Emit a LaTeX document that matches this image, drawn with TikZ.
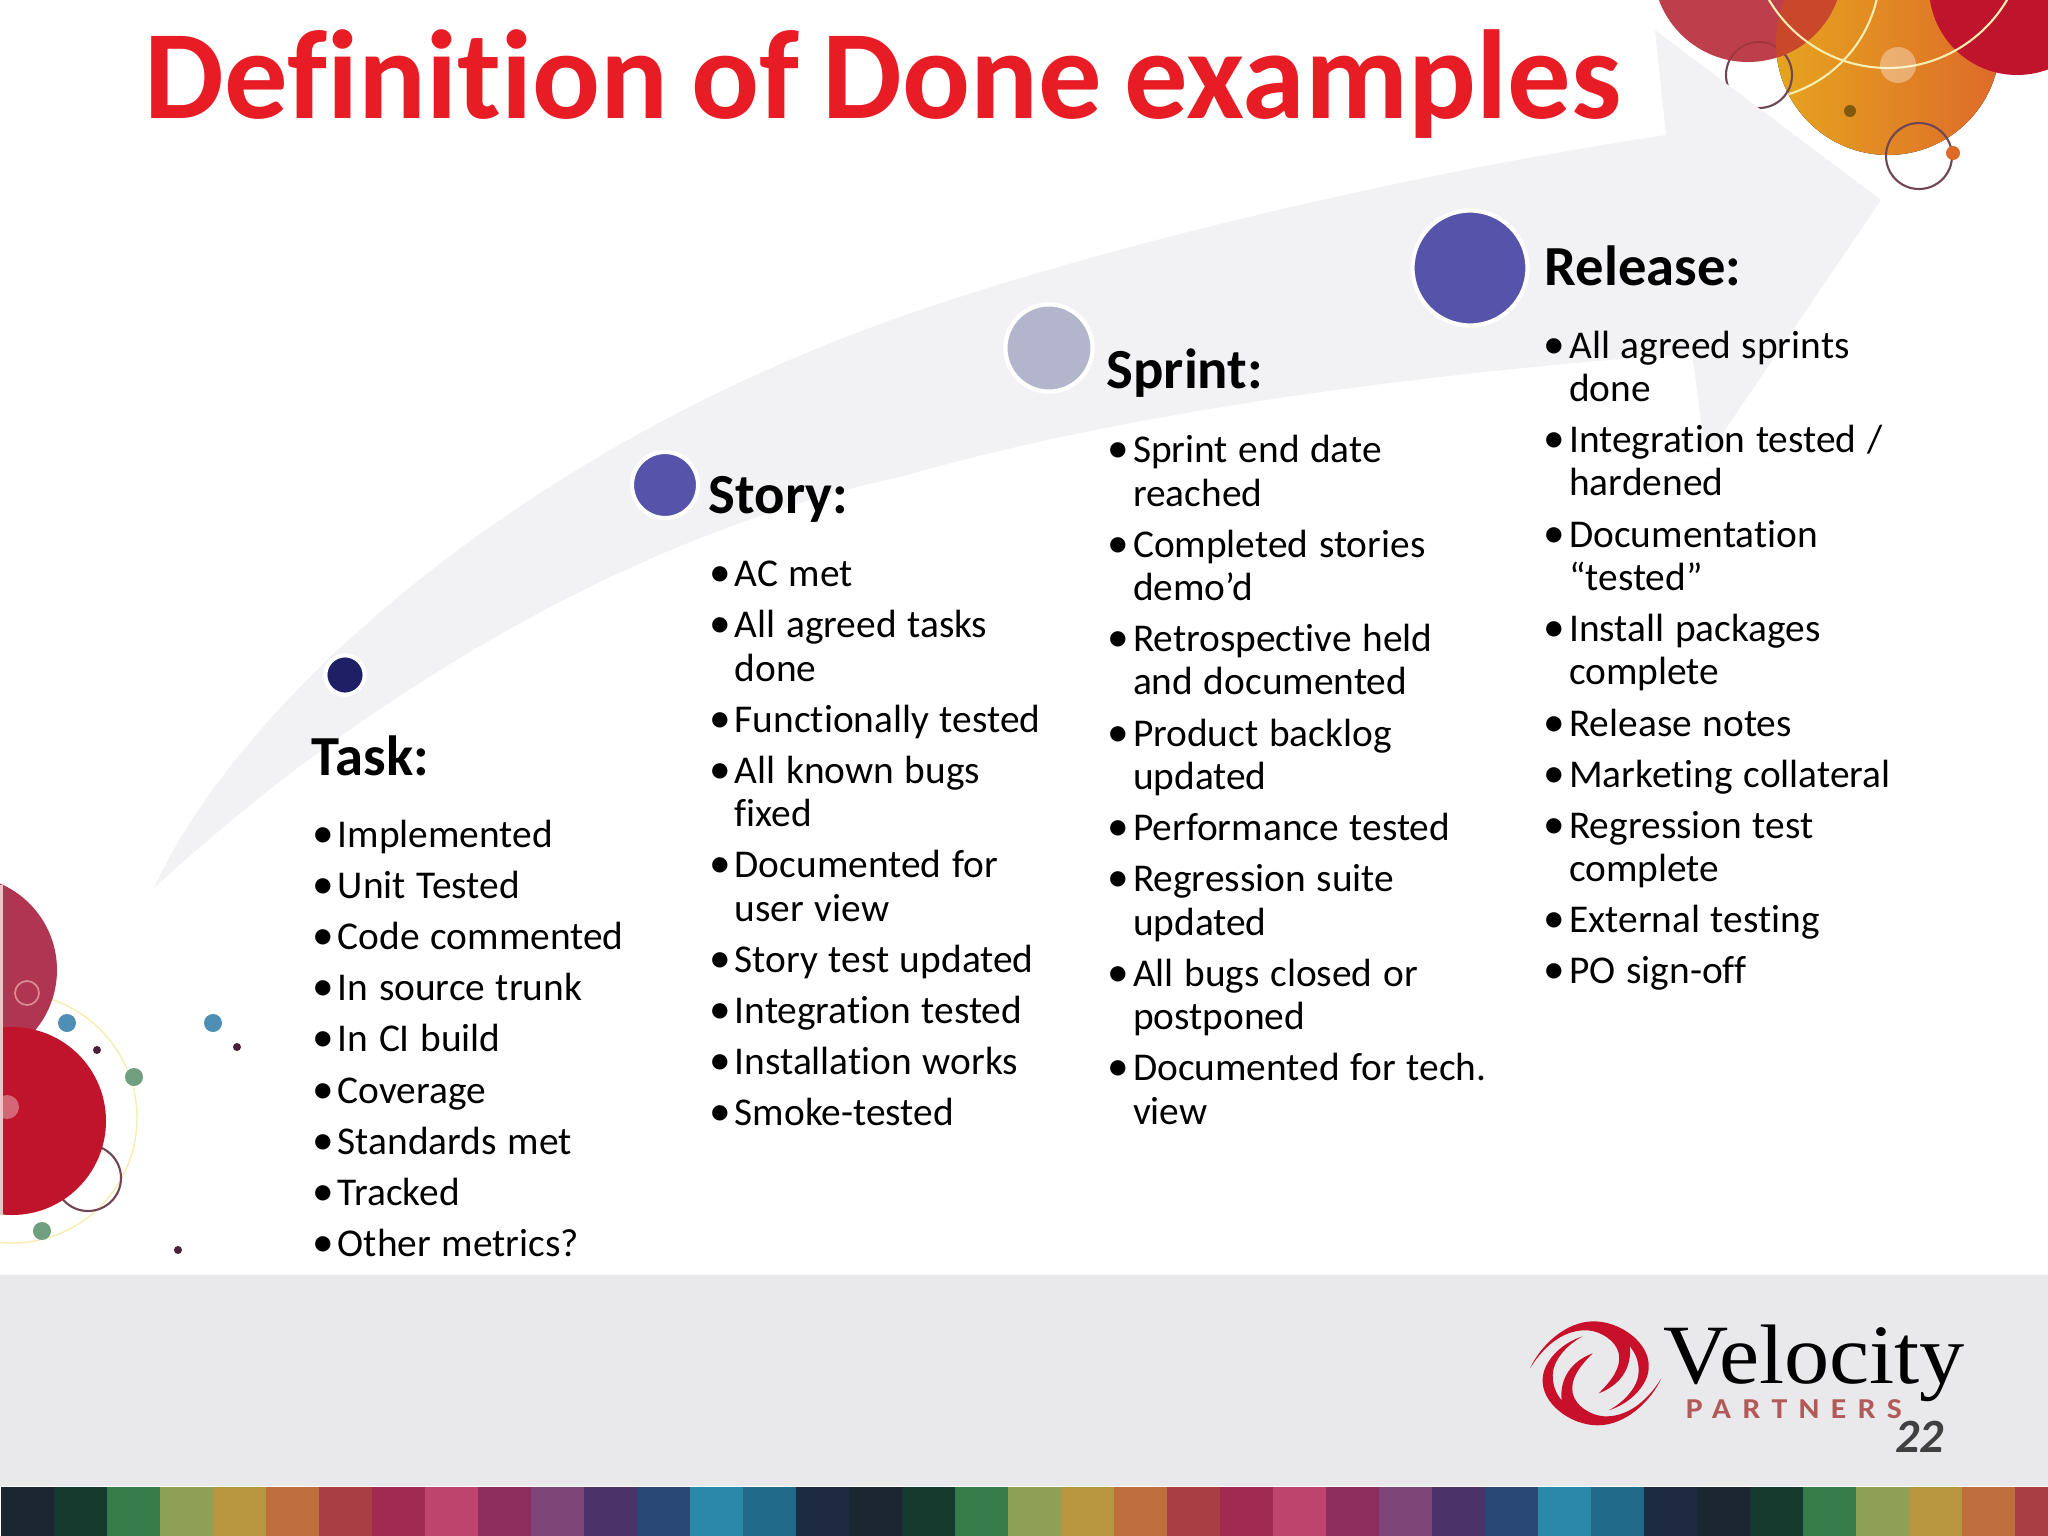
\documentclass[tikz,border=0pt]{standalone}
\usepackage{fontspec}
\setmainfont[Ligatures=NoCommon,WordSpace=0.8]{Carlito}
\newfontfamily\logofont{Liberation Serif}
\newfontfamily\partnersfont[LetterSpace=36]{Carlito}
\definecolor{titlered}{HTML}{E81C25}
\definecolor{bandgray}{HTML}{F2F1F4}
\definecolor{footgray}{HTML}{E9E9EB}
\definecolor{taskblue}{HTML}{1F1F66}
\definecolor{dotblue}{HTML}{5654AA}
\definecolor{sprintgray}{HTML}{B3B5CD}
\definecolor{rosered}{HTML}{BE3F4C}
\definecolor{roseover}{HTML}{C9472A}
\definecolor{deepred}{HTML}{C0142C}
\definecolor{plumred}{HTML}{AF3552}
\definecolor{orangeL}{HTML}{E5A41E}
\definecolor{orangeR}{HTML}{DE6A2A}
\definecolor{paleyellow}{HTML}{F6EDB0}
\definecolor{ringdark}{HTML}{6F4656}
\definecolor{spotblue}{HTML}{4F8FB5}
\definecolor{spotgreen}{HTML}{6F9F7F}
\definecolor{spotdark}{HTML}{4A2038}
\definecolor{swirlred}{HTML}{C8102A}
\definecolor{partnersred}{HTML}{B25A5A}
\definecolor{pagegray}{HTML}{404040}
\definecolor{sa}{HTML}{1C2630}
\definecolor{sb}{HTML}{173A2F}
\definecolor{sc}{HTML}{377D4C}
\definecolor{sd}{HTML}{8EA055}
\definecolor{se}{HTML}{B89640}
\definecolor{sf}{HTML}{BF6F3E}
\definecolor{sg}{HTML}{A93F45}
\definecolor{sh}{HTML}{A02A52}
\definecolor{si}{HTML}{BC446D}
\definecolor{sj}{HTML}{8E2E5C}
\definecolor{sk}{HTML}{7D4578}
\definecolor{sl}{HTML}{4A3369}
\definecolor{sm}{HTML}{2A4874}
\definecolor{sn}{HTML}{2A88A8}
\definecolor{so}{HTML}{226A8A}
\definecolor{sp}{HTML}{1E2A42}
\newenvironment{donelist}{\setlength{\spaceskip}{0.27em}\begin{list}{\hspace*{-0.6pt}\scalebox{1.1}{\textbullet}}{%
  \setlength{\leftmargin}{6.7pt}\setlength{\labelwidth}{6.7pt}\setlength{\labelsep}{0pt}%
  \setlength{\topsep}{0pt}\setlength{\partopsep}{0pt}\setlength{\parsep}{0pt}%
  \setlength{\itemsep}{2.19pt}\renewcommand{\makelabel}[1]{##1\hfil}}}{\end{list}}
\tikzset{
  listhead/.style={anchor=base west,inner sep=0pt,font=\fontsize{16.1pt}{18pt}\selectfont\bfseries},
  listbody/.style={anchor=north west,inner sep=0pt,text width=130pt,align=left,font=\fontsize{11.2pt}{12.34pt}\selectfont},
  ringdot/.style={circle,draw=white,line width=1.2pt,inner sep=0pt},
  thinring/.style={draw=ringdark,line width=0.6pt},
  palering/.style={draw=paleyellow,line width=0.6pt},
}
\begin{document}
\begin{tikzpicture}[x=0.01cm,y=-0.01cm]
    \useasboundingbox (0,0) rectangle (2048,1536);
    \clip (0,0) rectangle (2048,1536);
    \fill[white] (0,0) rectangle (2048,1536);
    \fill[footgray] (0,1275) rectangle (2048,1486);
    \foreach \n in {0,1,2}
      \foreach \c [count=\k from 0] in {sa,sb,sc,sd,se,sf,sg,sh,si,sj,sk,sl,sm,sn,so,sp}
        \fill[\c] ({1+53*(16*\n+\k)},1487) rectangle +(53.5,50);

    \fill[left color=orangeL,right color=orangeR] (1888,43) circle (112);
    \draw[thinring] (1759,75) circle (33);
    \fill[rosered] (1748,-33) circle (95);
    \begin{scope}
      \clip (1748,-33) circle (95);
      \draw[rosered!85!black,line width=0.5pt] (1759,75) circle (33);
    \end{scope}
    \begin{scope}
      \clip (1888,43) circle (112);
      \fill[roseover] (1748,-33) circle (95);
      \draw[palering] (1750,-30) circle (130);
    \end{scope}
    \fill[deepred] (2017,-13) circle (88);
    \draw[palering] (1888,-70) circle (138);
    \draw[thinring] (1919,156) circle (33);
    \fill[orangeR] (1953,153) circle (7);
    \fill[black!45!orangeL] (1850,111) circle (6);
    \fill[white,opacity=0.35] (1898,65) circle (18);

    \draw[palering,line width=0.4pt] (12,1118) circle (125);
    \draw[thinring] (88,1178) circle (33);
    \fill[plumred] (-37,970) circle (94);
    \draw[rosered!60!white,line width=0.5pt] (27,993) circle (12);
    \fill[deepred] (12,1121) circle (94);
    \fill[white,opacity=0.35] (7,1107) circle (12);
    \fill[white!70!rosered] (0,885) rectangle (3,1215);
    \fill[spotblue] (67,1023) circle (9);
    \fill[spotblue] (213,1023) circle (9);
    \fill[spotgreen] (134,1077) circle (9);
    \fill[spotgreen] (42,1231) circle (9);
    \fill[spotdark] (97,1050) circle (4);
    \fill[spotdark] (237,1047) circle (4);
    \fill[spotdark] (178,1250) circle (4);

    \fill[bandgray] (154,888) .. controls (240,700) and (520,450) .. (900,317)
          .. controls (1100,247) and (1400,175) .. (1666,135)
          -- (1655,30) -- (1881,200) -- (1706,458) -- (1692,353)
          .. controls (1450,372) and (1150,405) .. (900,477)
          .. controls (650,530) and (380,680) .. (154,888) -- cycle;

    \node[anchor=base west,inner sep=0pt,text=titlered,font=\fontsize{36pt}{40pt}\selectfont\bfseries] (title) at (144,118) {Definition of Done examples};

    \node[ringdot,fill=taskblue,minimum size=11.2pt] (taskdot) at (345,675) {};
    \node[ringdot,fill=dotblue,minimum size=18.8pt] (storydot) at (665,485) {};
    \node[ringdot,fill=sprintgray,minimum size=24.8pt] (sprintdot) at (1049,348) {};
    \node[ringdot,fill=dotblue,minimum size=32.7pt] (releasedot) at (1470,268) {};

    \node[listhead] (taskhead) at (311,775) {Task:};
    \node[listhead] (storyhead) at (708,513) {Story:};
    \node[listhead] (sprinthead) at (1106,388) {Sprint:};
    \node[listhead] (releasehead) at (1544,285) {Release:};

    \node[listbody] (tasklist) at (313.5,803.5) {\begin{donelist}
      \item Implemented
      \item Unit Tested
      \item Code commented
      \item In source trunk
      \item In CI build
      \item Coverage
      \item Standards met
      \item Tracked
      \item Other metrics?
    \end{donelist}};
    \node[listbody] (storylist) at (710.5,542.5) {\begin{donelist}
      \item AC met
      \item All agreed tasks\\done
      \item Functionally tested
      \item All known bugs\\fixed
      \item Documented for\\user view
      \item Story test updated
      \item Integration tested
      \item Installation works
      \item Smoke-tested
    \end{donelist}};
    \node[listbody] (sprintlist) at (1108.8,418.5) {\begin{donelist}
      \item Sprint end date\\reached
      \item Completed stories\\demo’d
      \item Retrospective held\\and documented
      \item Product backlog\\updated
      \item Performance tested
      \item Regression suite\\updated
      \item All bugs closed or\\postponed
      \item Documented for tech.\\view
    \end{donelist}};
    \node[listbody] (releaselist) at (1545,314) {\begin{donelist}
      \item All agreed sprints\\done
      \item Integration tested /\\hardened
      \item Documentation\\“tested”
      \item Install packages\\complete
      \item Release notes
      \item Marketing collateral
      \item Regression test\\complete
      \item External testing
      \item PO sign-off
    \end{donelist}};

    \foreach \ang in {0,180}
      \fill[swirlred,shift={(1595.7,1373.3)},rotate=\ang] (-65.7,-5) .. controls (-55,-28) and (-30,-52) .. (-2,-52)
          .. controls (25,-52) and (55,-30) .. (53,-5)
          .. controls (52,12) and (35,30) .. (13,37)
          .. controls (30,28) and (43,12) .. (43,-2)
          .. controls (43,-12) and (40,-20) .. (34,-27)
          .. controls (36,-12) and (30,10) .. (3,20)
          .. controls (15,8) and (26,-5) .. (23,-20)
          .. controls (20,-33) and (5,-42) .. (-8,-43)
          .. controls (-30,-44) and (-50,-30) .. (-65.7,-5) -- cycle;

    \node[anchor=base west,inner sep=0pt,xscale=1.07,transform shape,font=\fontsize{24pt}{28pt}\logofont] (velocity) at (1663,1383) {Velocity};
    \node[anchor=base west,inner sep=0pt,xscale=1.1,transform shape,text=partnersred,font=\fontsize{8.2pt}{10pt}\partnersfont\bfseries] (partners) at (1685,1418) {PARTNERS};
    \node[anchor=base west,inner sep=0pt,text=pagegray,font=\fontsize{13.6pt}{15pt}\selectfont\bfseries\itshape] (pagenum) at (1895,1452) {22};
  \end{tikzpicture}
\end{document}
